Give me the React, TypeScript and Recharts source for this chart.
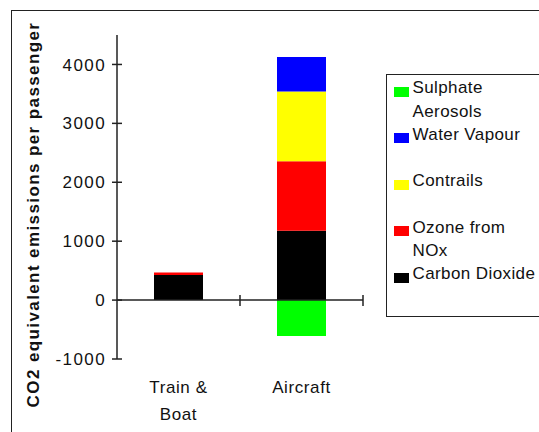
import React from "react"
import { BarChart, Bar, XAxis, YAxis, Legend, ReferenceLine } from "recharts"

// ─── Data ────────────────────────────────────────────────────────────────────
const CATEGORIES = ["Train &\nBoat", "Aircraft"]
const CARBON_DIOXIDE = [425, 1175]
const OZONE_NOX = [45, 1180]
const CONTRAILS = [0, 1185]
const WATER_VAPOUR = [0, 585]
const SULPHATE = [0, -610]
const Y_TICKS = [-1000, 0, 1000, 2000, 3000, 4000]

// stack order bottom → top; legend shows them reversed
const SERIES = [
  { key: "co2", label: "Carbon Dioxide", color: "#000000", values: CARBON_DIOXIDE },
  { key: "ozone", label: "Ozone from\nNOx", color: "#ff0000", values: OZONE_NOX },
  { key: "contrails", label: "Contrails", color: "#ffff00", values: CONTRAILS },
  { key: "water", label: "Water Vapour", color: "#0000ff", values: WATER_VAPOUR },
  { key: "sulphate", label: "Sulphate\nAerosols", color: "#00ff00", values: SULPHATE },
]

const data = CATEGORIES.map((name, i) => {
  const row: any = { name }
  SERIES.forEach((s) => (row[s.key] = s.values[i]))
  return row
})

const FONT = "'Liberation Sans', Arial, Helvetica, sans-serif"
const INK = "#222"

// ─── Axis pieces ─────────────────────────────────────────────────────────────
function YTick({ x, y, payload }: any) {
  return (
    <g>
      <line x1={x - 5} x2={x + 5} y1={y} y2={y} stroke={INK} strokeWidth={1.5} />
      <text x={x - 11} y={y} dy="0.36em" textAnchor="end" fontSize={17} letterSpacing={1.4}
        fill="#111" fontFamily={FONT}>
        {payload.value}
      </text>
    </g>
  )
}

function XTick({ x, y, payload }: any) {
  const lines = String(payload.value).split("\n")
  return (
    <text x={x} y={y + 26} textAnchor="middle" fontSize={17} letterSpacing={0.6}
      fill="#111" fontFamily={FONT}>
      {lines.map((l, i) => (
        <tspan key={i} x={x} dy={i === 0 ? "0.36em" : 27}>{l}</tspan>
      ))}
    </text>
  )
}

// axis line at zero with tick marks between categories
function ZeroAxis(p: any) {
  const { x1, x2, y1 } = p
  if (x1 == null) return null
  const n = CATEGORIES.length
  const step = (x2 - x1) / n
  return (
    <g>
      <line x1={x1} x2={x2} y1={y1} y2={y1} stroke={INK} strokeWidth={1.5} />
      {CATEGORIES.map((_, i) => (
        <line key={i} x1={x1 + step * (i + 1)} x2={x1 + step * (i + 1)} y1={y1 - 5} y2={y1 + 6}
          stroke={INK} strokeWidth={1.5} />
      ))}
    </g>
  )
}

function LegendBox() {
  const items = [...SERIES].reverse()
  return (
    <div style={{
      boxSizing: "border-box", width: 200, height: 243, border: `1.5px solid ${INK}`,
      background: "#fff", padding: "1px 0 0 6.5px", fontFamily: FONT, fontSize: 17,
      letterSpacing: 0.4, color: "#111", textAlign: "left",
    }}>
      {items.map((s) => (
        <div key={s.key} style={{ position: "relative", height: 46.5 }}>
          <span style={{ position: "absolute", left: 0, top: 10.75, width: 15, height: 10, background: s.color }} />
          <div style={{ marginLeft: 19, lineHeight: "23.5px", whiteSpace: "pre-line" }}>{s.label}</div>
        </div>
      ))}
    </div>
  )
}

export default function App() {
  return (
    <div style={{ position: "absolute", left: 0, top: 0, width: 539, height: 432, overflow: "hidden", background: "#fff" }}>
      <div style={{ position: "absolute", left: 11, top: 10, width: 700, height: 600, border: `1.5px solid ${INK}` }} />
      <div style={{ position: "absolute", left: 0, top: 0 }}>
        <BarChart width={539} height={432} data={data} stackOffset="sign"
          margin={{ top: 35, right: 176, bottom: 0, left: 0 }}>
          <XAxis dataKey="name" height={73} axisLine={false} tickLine={false} tickSize={0}
            tick={<XTick />} interval={0} />
          <YAxis type="number" domain={[-1000, 4500]} ticks={Y_TICKS} width={117} interval={0}
            axisLine={{ stroke: INK, strokeWidth: 1.5 }} tickLine={false} tickSize={0} tickMargin={0}
            tick={<YTick />} allowDataOverflow />
          {SERIES.map((s) => (
            <Bar key={s.key} dataKey={s.key} stackId="a" fill={s.color} barSize={49} isAnimationActive={false} />
          ))}
          <ReferenceLine y={0} shape={ZeroAxis} />
          <Legend layout="vertical" align="center" verticalAlign="middle" content={<LegendBox />}
            wrapperStyle={{ left: 386, top: 74, width: 200, height: 243 }} />
          <text x={33} y={214.5} transform="rotate(-90 33 214.5)" textAnchor="middle" dy="0.36em"
            fontSize={17} fontWeight="bold" letterSpacing={1.4} fill="#111" fontFamily={FONT}>
            CO2 equivalent emissions per passenger
          </text>
        </BarChart>
      </div>
    </div>
  )
}
